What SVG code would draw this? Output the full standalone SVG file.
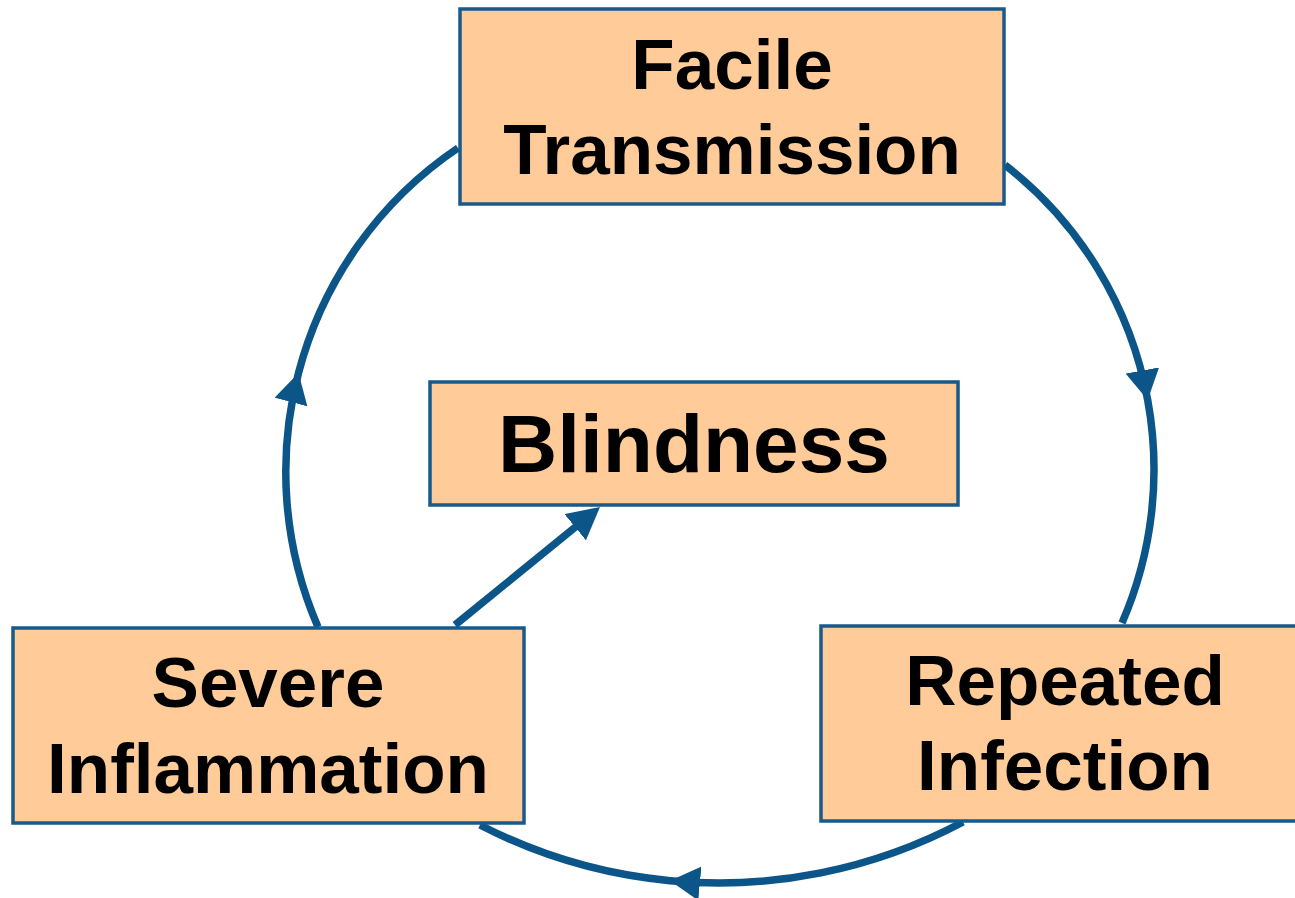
<svg xmlns="http://www.w3.org/2000/svg" width="1295" height="898" viewBox="0 0 1295 898">
<style>
.box{fill:#fecb99;stroke:#175a8b;stroke-width:3.5}
.lbl{font-family:"Liberation Sans",Arial,sans-serif;font-weight:bold;fill:#000;text-anchor:middle}
.conn{fill:none;stroke:#0b5589;stroke-width:7.5}
</style>
<defs>
<marker id="ahMid" markerUnits="userSpaceOnUse" viewBox="0 0 30 34" markerWidth="30" markerHeight="34" refX="30" refY="17" orient="auto">
<path d="M0,0 L30,17 L0,34 z" fill="#0b5589"/>
</marker>
<marker id="ahEnd" markerUnits="userSpaceOnUse" viewBox="0 0 32 34" markerWidth="32" markerHeight="34" refX="12" refY="17" orient="auto">
<path d="M0,0 L32,17 L0,34 z" fill="#0b5589"/>
</marker>
</defs>
<rect width="1295" height="898" fill="#fff"/>
<g id="connectors">
<path class="conn" d="M318,627 A390,390 0 0 1 298.5,373 A390,390 0 0 1 458,148" marker-mid="url(#ahMid)"/>
<path class="conn" d="M1005,165 A385,385 0 0 1 1147.7,400 A385,385 0 0 1 1122,623" marker-mid="url(#ahMid)"/>
<path class="conn" d="M963,822 A519.8,519.8 0 0 1 670,880.7 A519.8,519.8 0 0 1 480,825" marker-mid="url(#ahMid)"/>
<line class="conn" x1="455" y1="625" x2="584.5" y2="519.6" marker-end="url(#ahEnd)"/>
</g>
<g id="node-facile">
<rect class="box" x="460" y="9" width="544" height="195"/>
<text class="lbl" font-size="71" x="732" y="89">Facile</text>
<text class="lbl" font-size="71" x="732" y="174">Transmission</text>
</g>
<g id="node-blindness">
<rect class="box" x="430" y="382" width="528" height="123"/>
<text class="lbl" font-size="82" x="694" y="472">Blindness</text>
</g>
<g id="node-severe">
<rect class="box" x="13" y="628" width="511" height="195"/>
<text class="lbl" font-size="71" x="268" y="707">Severe</text>
<text class="lbl" font-size="71" x="268" y="793">Inflammation</text>
</g>
<g id="node-repeated">
<rect class="box" x="821" y="626" width="490" height="195"/>
<text class="lbl" font-size="71" x="1065" y="705">Repeated</text>
<text class="lbl" font-size="71" x="1065" y="790">Infection</text>
</g>
</svg>
